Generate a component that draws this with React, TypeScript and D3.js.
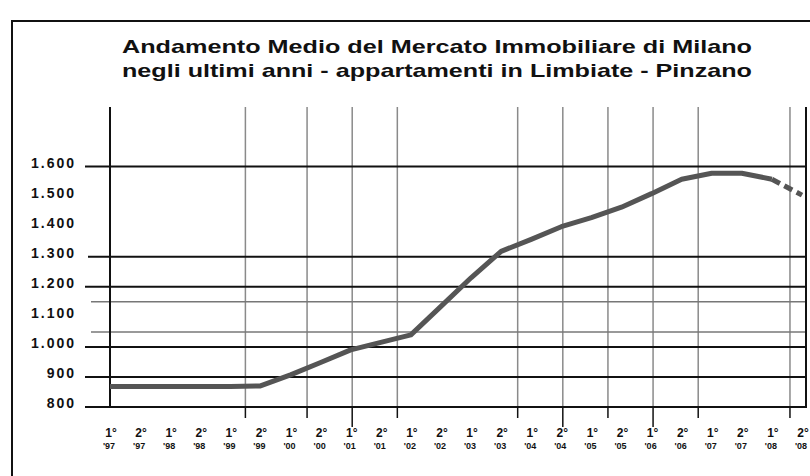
import React from "react";
import * as d3 from "d3";

const TITLE_LINES = [
  "Andamento Medio del Mercato Immobiliare di Milano",
  "negli ultimi anni - appartamenti in Limbiate - Pinzano",
];

const SEMESTERS = ["1°", "2°", "1°", "2°", "1°", "2°", "1°", "2°", "1°", "2°", "1°", "2°", "1°", "2°", "1°", "2°", "1°", "2°", "1°", "2°", "1°", "2°", "1°", "2°"];
const YEARS = ["'97", "'97", "'98", "'98", "'99", "'99", "'00", "'00", "'01", "'01", "'02", "'02", "'03", "'03", "'04", "'04", "'05", "'05", "'06", "'06", "'07", "'07", "'08", "'08"];

const PRICES = [868, 868, 868, 868, 868, 870, 907, 948, 990, 1015, 1040, 1135, 1230, 1318, 1358, 1400, 1430, 1465, 1510, 1558, 1578, 1578, 1558, 1505];

const Y_LABELS = [1600, 1500, 1400, 1300, 1200, 1100, 1000, 900, 800];
const Y_MAJOR_LINES = [900, 1000, 1200, 1300, 1600];
const Y_MINOR_LINES = [1050, 1150];

const V_GRID = [4.5, 6.55, 8.05, 9.55, 13.55, 15.05, 16.55, 18.05, 19.55, 22.6];
const V_LONG_TICKS = [8.05, 15.05, 18.05];

const W = 810;
const H = 476;

export default function App() {
  const x = d3.scaleLinear().domain([0, 23]).range([110, 802]);
  const y = d3.scaleLinear().domain([800, 1600]).range([407, 166.6]);
  const plotTop = 107;
  const plotRight = 806;

  const fmt = (v: number) => d3.format(",")(v).replace(/,/g, ".");

  const solidLine = d3
    .line<number>()
    .x((_, i) => x(i))
    .y((d) => y(d));
  const solidPts = PRICES.slice(0, 23);
  const dashPts = PRICES.slice(22);
  const dashLine = d3
    .line<number>()
    .x((_, i) => x(i + 22))
    .y((d) => y(d));

  const font = "'Liberation Sans', Arial, sans-serif";

  return (
    <svg
      width={W}
      height={H}
      style={{ position: "absolute", left: 0, top: 0, background: "#fff" }}
      fontFamily={font}
    >
      <rect x={0} y={0} width={W} height={H} fill="#fff" />
      {/* outer frame */}
      <rect x={12} y={21} width={840} height={520} fill="none" stroke="#111" strokeWidth={2} />

      {/* title */}
      {TITLE_LINES.map((t, i) => (
        <text
          key={i}
          x={122}
          y={53 + i * 24}
          fontSize={19}
          fontWeight="bold"
          fill="#111"
          textLength={630}
          lengthAdjust="spacingAndGlyphs"
        >
          {t}
        </text>
      ))}

      {/* vertical grid lines */}
      {V_GRID.map((g, i) => {
        const long = V_LONG_TICKS.includes(g);
        return (
          <g key={i}>
            <line x1={x(g)} x2={x(g)} y1={plotTop} y2={y(800)} stroke="#8a8a8a" strokeWidth={1.5} />
            <line x1={x(g)} x2={x(g)} y1={y(800)} y2={y(800) + (long ? 20 : 11)} stroke="#111" strokeWidth={1.5} />
          </g>
        );
      })}

      {/* horizontal minor lines */}
      {Y_MINOR_LINES.map((v) => (
        <line key={v} x1={91} x2={plotRight} y1={y(v)} y2={y(v)} stroke="#777" strokeWidth={1.5} />
      ))}
      {/* horizontal major lines */}
      {Y_MAJOR_LINES.map((v) => (
        <line key={v} x1={v === 1300 ? 88 : 85} x2={plotRight} y1={y(v)} y2={y(v)} stroke="#111" strokeWidth={2} />
      ))}

      {/* axes */}
      <line x1={85} x2={plotRight + 1} y1={y(800)} y2={y(800)} stroke="#111" strokeWidth={2} />
      <line x1={x(0)} x2={x(0)} y1={plotTop} y2={y(800)} stroke="#111" strokeWidth={2} />
      <line x1={plotRight} x2={plotRight} y1={plotTop} y2={y(800)} stroke="#111" strokeWidth={2} />

      {/* y labels */}
      {Y_LABELS.map((v) => (
        <text
          key={v}
          x={76}
          y={y(v) + 1}
          textAnchor="end"
          fontSize={14}
          fontWeight="bold"
          letterSpacing={2}
          fill="#111"
        >
          {fmt(v)}
        </text>
      ))}

      {/* price line */}
      <path d={solidLine(solidPts) || ""} fill="none" stroke="#555" strokeWidth={5} strokeLinejoin="round" />
      <path d={dashLine(dashPts) || ""} fill="none" stroke="#555" strokeWidth={5} strokeDasharray="9,5" />

      {/* x labels */}
      {SEMESTERS.map((s, i) => (
        <text key={"s" + i} x={x(i) + 1} y={437} textAnchor="middle" fontSize={12} fontWeight="bold" fill="#111">
          {s}
        </text>
      ))}
      {YEARS.map((s, i) => (
        <text key={"y" + i} x={x(i) - 1} y={449} textAnchor="middle" fontSize={9} fontWeight="bold" fill="#111">
          {s}
        </text>
      ))}
    </svg>
  );
}
